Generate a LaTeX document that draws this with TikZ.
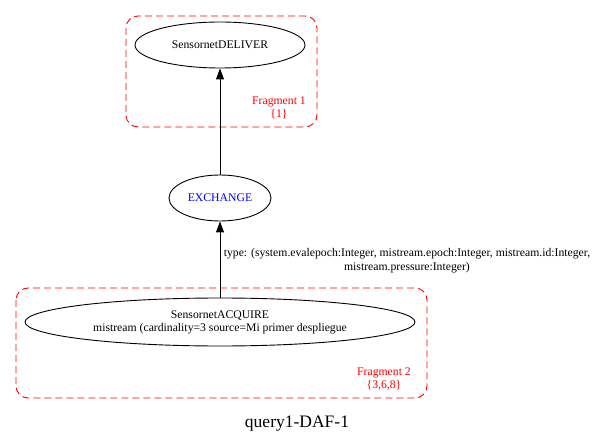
\documentclass[tikz,border=0pt]{standalone}
\usepackage{fontspec}
\setmainfont{Liberation Serif}
\usetikzlibrary{shapes.geometric,arrows.meta}
\begin{document}
\begin{tikzpicture}[x=1pt,y=-1pt,
  op/.style={draw,ellipse,line width=0.9pt,inner sep=0pt,font=\fontsize{11.7}{13}\selectfont,align=center},
  frag/.style={draw=red,dashed,dash pattern=on 7pt off 4pt,rounded corners=12pt,line width=0.9pt},
  fraglabel/.style={text=red,font=\fontsize{11.7}{13}\selectfont,align=center},
  edge/.style={line width=0.9pt,-{Triangle[length=11pt,width=8pt]}},
  elabel/.style={font=\fontsize{11.7}{14}\selectfont,align=center}]
\useasboundingbox (0,0) rectangle (599,446);
\draw[frag] (126,16) rectangle (317,127);
\draw[frag] (16,288) rectangle (427,398);
\node[op,minimum width=170pt,minimum height=46pt] (deliver) at (220,45) {SensornetDELIVER};
\node[op,minimum width=102pt,minimum height=46pt,text=blue] (exchange) at (220,198) {EXCHANGE};
\node[op,minimum width=390pt,minimum height=48pt] (acquire) at (220,322) {SensornetACQUIRE\\mistream (cardinality=3 source=Mi primer despliegue};
\node[fraglabel] (f1) at (279,107.5) {Fragment 1\\\{1\}};
\node[fraglabel] (f2) at (384,379.5) {Fragment 2\\\{3,6,8\}};
\draw[edge] (exchange) -- (deliver);
\draw[edge] (acquire) -- (exchange);
\node[elabel] (lbl) at (407,261) {type: (system.evalepoch:Integer, mistream.epoch:Integer, mistream.id:Integer,\\mistream.pressure:Integer)};
\node[font=\fontsize{17.5}{20}\selectfont] (title) at (297,424) {query1-DAF-1};
\end{tikzpicture}
\end{document}
